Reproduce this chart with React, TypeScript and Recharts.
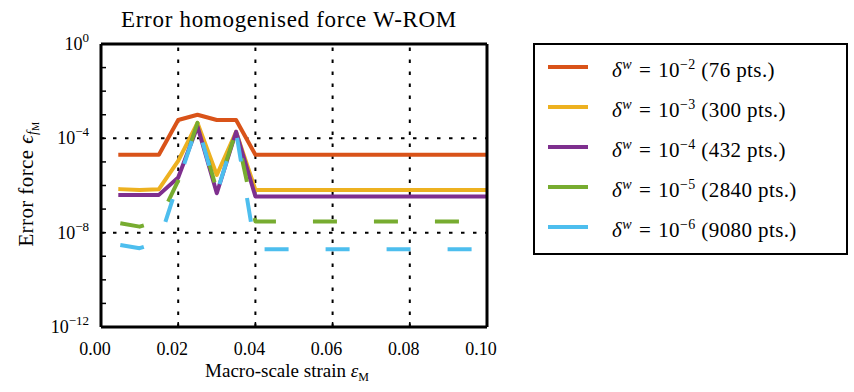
import React from "react";
import { LineChart, Line, XAxis, YAxis, Legend, ReferenceLine } from "recharts";

const strain = [
  0.005, 0.01, 0.015, 0.02, 0.025, 0.03, 0.035, 0.04, 0.045, 0.05, 0.055, 0.06, 0.065, 0.07,
  0.075, 0.08, 0.085, 0.09, 0.095, 0.1,
];

const err76 = [2e-5, 2e-5, 2e-5, 6e-4, 1e-3, 6e-4, 6e-4, 2e-5, 2e-5, 2e-5, 2e-5, 2e-5, 2e-5, 2e-5, 2e-5, 2e-5, 2e-5, 2e-5, 2e-5, 2e-5];
const err300 = [7e-7, 6.5e-7, 7e-7, 1.1e-5, 4.5e-4, 2.8e-6, 1.9e-4, 6.5e-7, 6.5e-7, 6.5e-7, 6.5e-7, 6.5e-7, 6.5e-7, 6.5e-7, 6.5e-7, 6.5e-7, 6.5e-7, 6.5e-7, 6.5e-7, 6.5e-7];
const err432 = [4e-7, 4e-7, 4e-7, 2.2e-6, 3.2e-4, 4.7e-7, 1.9e-4, 3.4e-7, 3.4e-7, 3.4e-7, 3.4e-7, 3.4e-7, 3.4e-7, 3.4e-7, 3.4e-7, 3.4e-7, 3.4e-7, 3.4e-7, 3.4e-7, 3.4e-7];
const err2840 = [2.5e-8, 1.8e-8, 3.2e-8, 1.6e-6, 4.5e-4, 6.3e-7, 2e-4, 3e-8, 3e-8, 3e-8, 3e-8, 3e-8, 3e-8, 3e-8, 3e-8, 3e-8, 3e-8, 3e-8, 3e-8, 3e-8];
const err9080 = [3e-9, 2.2e-9, 4e-9, 1.4e-6, 4e-4, 5e-7, 1.9e-4, 2e-9, 2e-9, 2e-9, 2e-9, 2e-9, 2e-9, 2e-9, 2e-9, 2e-9, 2e-9, 2e-9, 2e-9, 2e-9];

const xTicks = [0, 0.02, 0.04, 0.06, 0.08, 0.1];
const yTicks = [1, 1e-1, 1e-2, 1e-3, 1e-4, 1e-5, 1e-6, 1e-7, 1e-8, 1e-9, 1e-10, 1e-11, 1e-12];
const gridX = [0.02, 0.04, 0.06, 0.08];
const gridY = [1e-4, 1e-8];

const series = [
  { key: "d2", exp: "2", pts: "76", color: "#D95319", dash: undefined },
  { key: "d3", exp: "3", pts: "300", color: "#EDB120", dash: undefined },
  { key: "d4", exp: "4", pts: "432", color: "#7E2F8E", dash: undefined },
  { key: "d5", exp: "5", pts: "2840", color: "#77AC30", dash: "24 37" },
  { key: "d6", exp: "6", pts: "9080", color: "#4DBEEE", dash: "24 37" },
];

const data = strain.map((x, i) => ({
  x,
  d2: err76[i],
  d3: err300[i],
  d4: err432[i],
  d5: err2840[i],
  d6: err9080[i],
}));

const FONT = "'Liberation Serif', serif";

const YTick = ({ x, y, payload }: any) => {
  const e = Math.round(Math.log10(payload.value));
  if (e % 4 !== 0) return <g />;
  return (
    <text x={x} y={y} dy={6} textAnchor="end" fontSize={18} fontFamily={FONT} fill="#000">
      <tspan>10</tspan>
      <tspan dy={-8} fontSize={13}>{e === 0 ? "0" : `\u2212${-e}`}</tspan>
    </text>
  );
};

const supStyle = { fontSize: 14, verticalAlign: "8px" };

const LegendBox = () => (
  <div
    style={{
      boxSizing: "border-box",
      width: 315,
      height: 212,
      border: "2px solid #000",
      background: "#fff",
      paddingTop: 2,
      fontFamily: FONT,
      fontSize: 21,
      color: "#000",
    }}
  >
    {series.map((s) => (
      <div key={s.key} style={{ height: 40, display: "flex", alignItems: "center" }}>
        <div style={{ width: 40, height: 4, background: s.color, marginLeft: 13 }} />
        <div style={{ marginLeft: 24, whiteSpace: "nowrap", lineHeight: "20px", letterSpacing: 0.4 }}>
          <i>δ</i>
          <sup style={supStyle}>
            <i>w</i>
          </sup>
          <span style={{ margin: "0 7px" }}>=</span>10
          <sup style={supStyle}>{"\u2212" + s.exp}</sup> ({s.pts} pts.)
        </div>
      </div>
    ))}
  </div>
);

export default function App() {
  return (
    <div style={{ position: "absolute", left: 0, top: 0, width: 854, height: 392, background: "#fff" }}>
      <LineChart
        width={854}
        height={392}
        data={data}
        margin={{ top: 43, right: 366, left: 41, bottom: 25 }}
      >
        <XAxis
          dataKey="x"
          type="number"
          domain={[0, 0.1]}
          ticks={xTicks}
          allowDataOverflow
          height={40}
          tickSize={-5}
          tickMargin={20}
          tickFormatter={(v: number) => v.toFixed(2)}
          tick={{ fill: "#000", fontSize: 18, fontFamily: FONT, dx: -6 }}
          axisLine={{ stroke: "#000", strokeWidth: 3 }}
          tickLine={{ stroke: "#000", strokeWidth: 1.5 }}
          label={() => (
            <text x={287} y={377} textAnchor="middle" fontSize={19} fontFamily={FONT} fill="#000">
              Macro-scale strain <tspan fontStyle="italic">ε</tspan>
              <tspan dy={4} fontSize={12}>M</tspan>
            </text>
          )}
        />
        <XAxis
          xAxisId="top"
          orientation="top"
          type="number"
          domain={[0, 0.1]}
          ticks={xTicks}
          allowDataOverflow
          height={1}
          tickSize={-5}
          tick={false}
          axisLine={{ stroke: "#000", strokeWidth: 3 }}
          tickLine={{ stroke: "#000", strokeWidth: 1.5 }}
          label={() => (
            <text
              x={289}
              y={27}
              textAnchor="middle"
              fontSize={23}
              letterSpacing={0.7}
              fontFamily={FONT}
              fill="#000"
            >
              Error homogenised force W-ROM
            </text>
          )}
        />
        <YAxis
          type="number"
          scale="log"
          domain={[1e-12, 1]}
          ticks={yTicks}
          allowDataOverflow
          width={60}
          tickSize={-5}
          tickMargin={17}
          tick={<YTick />}
          axisLine={{ stroke: "#000", strokeWidth: 3 }}
          tickLine={{ stroke: "#000", strokeWidth: 1.5 }}
          label={() => (
            <text
              x={33}
              y={184}
              transform="rotate(-90 33 184)"
              textAnchor="middle"
              fontSize={21}
              letterSpacing={0.4}
              fontFamily={FONT}
              fill="#000"
            >
              Error force <tspan fontStyle="italic">ϵ</tspan>
              <tspan dy={4} fontSize={14} fontStyle="italic">f</tspan>
              <tspan dy={2} fontSize={10}>M</tspan>
            </text>
          )}
        />
        <YAxis
          yAxisId="right"
          orientation="right"
          type="number"
          scale="log"
          domain={[1e-12, 1]}
          ticks={yTicks}
          allowDataOverflow
          width={1}
          tickSize={-5}
          tick={false}
          axisLine={{ stroke: "#000", strokeWidth: 3 }}
          tickLine={{ stroke: "#000", strokeWidth: 1.5 }}
        />
        {gridX.map((g) => (
          <ReferenceLine key={"gx" + g} x={g} stroke="#000" strokeWidth={2} strokeDasharray="3.5 8.5" />
        ))}
        {gridY.map((g) => (
          <ReferenceLine key={"gy" + g} y={g} stroke="#000" strokeWidth={2} strokeDasharray="3.5 8.5" />
        ))}
        {series.map((s) => (
          <Line
            key={s.key}
            dataKey={s.key}
            type="linear"
            stroke={s.color}
            strokeWidth={4}
            strokeDasharray={s.dash}
            strokeLinecap={s.dash ? "butt" : "square"}
            strokeLinejoin="round"
            dot={false}
            activeDot={false}
            isAnimationActive={false}
          />
        ))}
        <Legend
          layout="vertical"
          align="center"
          verticalAlign="middle"
          wrapperStyle={{ left: 533, top: 43, width: 315, height: 212 }}
          content={() => <LegendBox />}
        />
      </LineChart>
    </div>
  );
}
